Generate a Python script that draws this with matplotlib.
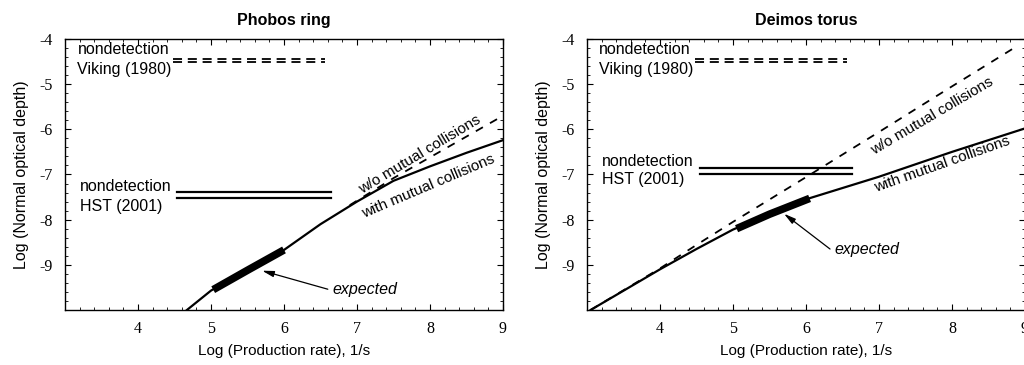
import matplotlib
matplotlib.use("Agg")
import matplotlib.pyplot as plt
from matplotlib.ticker import MultipleLocator

plt.rcParams["axes.unicode_minus"] = False
plt.rcParams["font.family"] = "Liberation Sans"

# Phobos ring
phobos_with_x = [4.67, 5.0, 5.5, 6.0, 6.5, 7.0, 7.5, 8.0, 8.5, 9.0]
phobos_with_y = [-10.0, -9.57, -9.12, -8.67, -8.1, -7.6, -7.14, -6.82, -6.52, -6.24]
phobos_wo_x = [6.9, 7.5, 8.0, 8.5, 9.0]
phobos_wo_y = [-7.68, -7.08, -6.62, -6.16, -5.7]
phobos_exp_x = [5.03, 5.5, 6.0]
phobos_exp_y = [-9.55, -9.12, -8.67]
phobos_hst_y = [-7.39, -7.52]
phobos_hst_x = [4.53, 6.65]
phobos_arrow = [(6.6, -9.54), (5.7, -9.13)]

# Deimos torus
deimos_with_x = [3.05, 4.0, 4.5, 5.0, 5.5, 6.0, 7.0, 8.0, 9.0]
deimos_with_y = [-10.0, -9.1, -8.65, -8.22, -7.88, -7.55, -7.05, -6.5, -5.98]
deimos_wo_x = [3.05, 4.0, 4.5, 5.0, 6.0, 7.0, 8.0, 8.9]
deimos_wo_y = [-10.0, -9.08, -8.56, -8.05, -7.06, -6.06, -5.05, -4.15]
deimos_exp_x = [5.05, 5.5, 6.05]
deimos_exp_y = [-8.2, -7.88, -7.53]
deimos_hst_y = [-6.85, -6.98]
deimos_hst_x = [4.55, 6.63]
deimos_arrow = [(6.33, -8.65), (5.7, -7.87)]

viking_y = [-4.44, -4.52]
viking_x = [4.48, 6.56]

panels = [
    ("Phobos ring", [0.0635, 0.1507, 0.4277, 0.7425],
     phobos_with_x, phobos_with_y, phobos_wo_x, phobos_wo_y,
     phobos_exp_x, phobos_exp_y, phobos_hst_x, phobos_hst_y, phobos_arrow,
     (-7.26, -7.70), (7.86, -6.56, 31), (7.97, -7.26, 23)),
    ("Deimos torus", [0.5732, 0.1507, 0.4277, 0.7425],
     deimos_with_x, deimos_with_y, deimos_wo_x, deimos_wo_y,
     deimos_exp_x, deimos_exp_y, deimos_hst_x, deimos_hst_y, deimos_arrow,
     (-6.72, -7.10), (7.73, -5.70, 30.5), (7.86, -6.78, 19.5)),
]

fig = plt.figure(figsize=(10.24, 3.65), dpi=100)

for (title, pos, wx, wy, ox, oy, ex, ey, hx, hy, arr,
     hst_text_y, wo_lab, with_lab) in panels:
    ax = fig.add_axes(pos)
    ax.plot(wx, wy, color="black", lw=1.6)
    ax.plot(ox, oy, color="black", lw=1.3, linestyle=(0, (4.5, 4.5)))
    ax.plot(ex, ey, color="black", lw=5.5, solid_capstyle="butt")

    # nondetection limits
    for y in viking_y:
        ax.plot(viking_x, [y, y], color="black", lw=1.3, linestyle=(0, (5, 3.2)))
    for y in hy:
        ax.plot(hx, [y, y], color="black", lw=1.6)

    ax.text(3.17, -4.24, "nondetection", fontsize=11.5, va="center")
    ax.text(3.17, -4.67, "Viking (1980)", fontsize=11.5, va="center")
    ax.text(3.2, hst_text_y[0], "nondetection", fontsize=11.5, va="center")
    ax.text(3.2, hst_text_y[1], "HST (2001)", fontsize=11.5, va="center")

    ax.text(wo_lab[0], wo_lab[1], "w/o mutual collisions", fontsize=11,
            rotation=wo_lab[2], ha="center", va="center", rotation_mode="anchor")
    ax.text(with_lab[0], with_lab[1], "with mutual collisions", fontsize=11,
            rotation=with_lab[2], ha="center", va="center", rotation_mode="anchor")

    ax.annotate("", xy=arr[1], xytext=arr[0],
                arrowprops=dict(arrowstyle="-|>,head_width=0.18,head_length=0.7",
                                color="black", lw=0.9, shrinkA=0, shrinkB=0))
    ax.text(arr[0][0] + 0.06, arr[0][1], "expected", fontsize=11.5,
            style="italic", va="center")

    ax.set_xlim(3, 9)
    ax.set_ylim(-10, -4)
    ax.set_xticks([4, 5, 6, 7, 8, 9])
    ax.set_yticks([-9, -8, -7, -6, -5, -4])
    ax.xaxis.set_minor_locator(MultipleLocator(0.2))
    ax.yaxis.set_minor_locator(MultipleLocator(0.2))
    ax.tick_params(which="both", direction="in", top=True, right=True)
    ax.tick_params(which="major", length=4, width=0.8)
    ax.tick_params(which="minor", length=2.5, width=0.6)
    ax.tick_params(axis="x", pad=8)
    ax.tick_params(axis="y", pad=9)
    for lab in ax.get_xticklabels() + ax.get_yticklabels():
        lab.set_family("Liberation Serif")
        lab.set_fontsize(11.5)
    for sp in ax.spines.values():
        sp.set_linewidth(1.0)

    ax.set_title(title, fontsize=11.5, fontweight="bold", pad=10)
    ax.set_xlabel("Log (Production rate), 1/s", fontsize=11, labelpad=5)
    ax.set_ylabel("Log (Normal optical depth)", fontsize=11.5, labelpad=7)

fig.savefig("out.png", dpi=100)
